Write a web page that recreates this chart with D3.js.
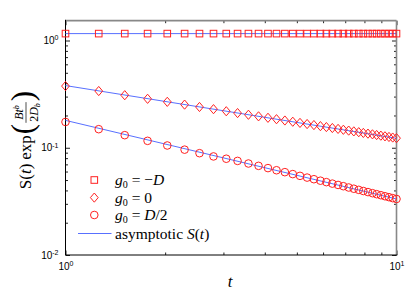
<!DOCTYPE html>
<html>
<head>
<meta charset="utf-8">
<script src="https://cdn.jsdelivr.net/npm/d3@7"></script>
<style>
  body { margin: 0; background: #fff; }
  svg { display: block; }
  .tick text { font-family: "Liberation Sans", Arial, sans-serif; font-size: 10px; fill: #000; }
</style>
</head>
<body>
<svg id="chart" width="415" height="304"></svg>
<script>
var tValues = [1.00, 1.26, 1.51, 1.77, 2.03, 2.29, 2.54, 2.80, 3.06, 3.31, 3.57, 3.83,
               4.09, 4.34, 4.60, 4.86, 5.11, 5.37, 5.63, 5.89, 6.14, 6.40, 6.66, 6.91,
               7.17, 7.43, 7.69, 7.94, 8.20, 8.46, 8.71, 8.97, 9.23, 9.49, 9.74, 10.00];

var squareValues = [1.16, 1.16, 1.16, 1.16, 1.16, 1.16, 1.16, 1.16, 1.16, 1.16, 1.16, 1.16,
                    1.16, 1.16, 1.16, 1.16, 1.16, 1.16, 1.16, 1.16, 1.16, 1.16, 1.16, 1.16,
                    1.16, 1.16, 1.16, 1.16, 1.16, 1.16, 1.16, 1.16, 1.16, 1.16, 1.16, 1.16];

var diamondValues = [0.376, 0.338, 0.309, 0.286, 0.268, 0.2525, 0.240, 0.229, 0.219, 0.2106, 0.2031, 0.1963,
                     0.1902, 0.1846, 0.1795, 0.1748, 0.1705, 0.1664, 0.1627, 0.1591, 0.1559, 0.1528, 0.1499, 0.1471,
                     0.1445, 0.1421, 0.1397, 0.1375, 0.1354, 0.1334, 0.1314, 0.1296, 0.1278, 0.1261, 0.1245, 0.1229];

var circleValues = [0.174, 0.149, 0.131, 0.116, 0.105, 0.096, 0.089, 0.083, 0.079, 0.0754, 0.0713, 0.0678,
                    0.0646, 0.0617, 0.0592, 0.0568, 0.0547, 0.0527, 0.0509, 0.0493, 0.0478, 0.0463, 0.0450, 0.0438,
                    0.0426, 0.0415, 0.0405, 0.0395, 0.0386, 0.0377, 0.0369, 0.0361, 0.0353, 0.0346, 0.0339, 0.0333];

// asymptotic S(t) curves (straight on log-log axes)
var lineT = [1, 10];
var asymNeg = [1.16, 1.16];
var asymZero = [0.380, 0.1225];
var asymHalf = [0.180, 0.0333];

var yMajor = [0.01, 0.1, 1];
var yMinor = [0.02, 0.03, 0.04, 0.05, 0.06, 0.07, 0.08, 0.09,
              0.2, 0.3, 0.4, 0.5, 0.6, 0.7, 0.8, 0.9];
var xMajor = [1, 10];
var xMinor = [2, 3, 4, 5, 6, 7, 8, 9];

var svg = d3.select("#chart");
var pLeft = 65.5, pRight = 396.5, pTop = 20.7, pBottom = 255;

var x = d3.scaleLog().domain([1, 10]).range([pLeft, pRight]);
var y = d3.scaleLog().domain([0.01, 1.53]).range([pBottom, pTop]);

var red = "#ff2020", blue = "#5870ff";

function sup(sel) {
    sel.each(function (d) {
        var e = Math.round(Math.log10(d));
        var t = d3.select(this).text("10");
        t.append("tspan").attr("dy", "-0.55em").attr("font-size", "7px").text(e);
    });
}

// minor ticks
svg.append("g").attr("transform", "translate(" + pLeft + ",0)")
    .call(d3.axisLeft(y).tickValues(yMinor).tickSize(-2.5).tickFormat(""));
svg.append("g").attr("transform", "translate(" + pRight + ",0)")
    .call(d3.axisRight(y).tickValues(yMinor).tickSize(-2.5).tickFormat(""));
svg.append("g").attr("transform", "translate(0," + pBottom + ")")
    .call(d3.axisBottom(x).tickValues(xMinor).tickSize(-2.5).tickFormat(""));
svg.append("g").attr("transform", "translate(0," + pTop + ")")
    .call(d3.axisTop(x).tickValues(xMinor).tickSize(-2.5).tickFormat(""));

// major ticks + labels
svg.append("g").attr("transform", "translate(" + pLeft + ",0)")
    .call(d3.axisLeft(y).tickValues(yMajor).tickSize(-4.5).tickPadding(7))
    .selectAll(".tick text").call(sup);
svg.append("g").attr("transform", "translate(" + pRight + ",0)")
    .call(d3.axisRight(y).tickValues(yMajor).tickSize(-4.5).tickFormat(""));
svg.append("g").attr("transform", "translate(0," + pBottom + ")")
    .call(d3.axisBottom(x).tickValues(xMajor).tickSize(-4.5).tickPadding(8))
    .selectAll(".tick text").call(sup);
svg.append("g").attr("transform", "translate(0," + pTop + ")")
    .call(d3.axisTop(x).tickValues(xMajor).tickSize(-4.5).tickFormat(""));

svg.selectAll(".domain").remove();
svg.selectAll(".tick line").attr("stroke", "#222");

// box
svg.append("line").attr("x1", pLeft).attr("x2", pRight).attr("y1", pTop).attr("y2", pTop)
    .attr("stroke", "#888").attr("stroke-width", 1.8);
svg.append("line").attr("x1", pRight).attr("x2", pRight).attr("y1", pTop).attr("y2", pBottom)
    .attr("stroke", "#888").attr("stroke-width", 1.6);
svg.append("line").attr("x1", pLeft).attr("x2", pLeft).attr("y1", pTop - 0.9).attr("y2", pBottom)
    .attr("stroke", "#000").attr("stroke-width", 1);
svg.append("line").attr("x1", pLeft).attr("x2", pRight + 0.8).attr("y1", pBottom).attr("y2", pBottom)
    .attr("stroke", "#000").attr("stroke-width", 1);

// asymptotic lines
var line = d3.line().x(function (d) { return x(d[0]); }).y(function (d) { return y(d[1]); });
[asymNeg, asymZero, asymHalf].forEach(function (vals) {
    svg.append("path")
        .datum(lineT.map(function (t, i) { return [t, vals[i]]; }))
        .attr("d", line)
        .attr("fill", "none").attr("stroke", blue).attr("stroke-width", 1);
});

// marker shapes
function square(g, cx, cy) {
    g.append("rect").attr("x", cx - 3.3).attr("y", cy - 3.3).attr("width", 6.6).attr("height", 6.6)
        .attr("fill", "none").attr("stroke", red).attr("stroke-width", 1);
}
function diamond(g, cx, cy) {
    g.append("path")
        .attr("d", "M" + cx + "," + (cy - 4.6) + "L" + (cx + 3.9) + "," + cy + "L" + cx + "," + (cy + 4.6) + "L" + (cx - 3.9) + "," + cy + "Z")
        .attr("fill", "none").attr("stroke", red).attr("stroke-width", 1);
}
function circle(g, cx, cy) {
    g.append("circle").attr("cx", cx).attr("cy", cy).attr("r", 3.8)
        .attr("fill", "none").attr("stroke", red).attr("stroke-width", 1);
}

var marks = svg.append("g");
tValues.forEach(function (t, i) {
    square(marks, x(t), y(squareValues[i]));
    diamond(marks, x(t), y(diamondValues[i]));
    circle(marks, x(t), y(circleValues[i]));
});

// legend
var serif = "'Liberation Serif', 'Times New Roman', serif";
var legend = svg.append("g").attr("font-family", serif).attr("font-size", "15.5px");
var rows = [
    {shape: square, y: 180, rhs: "\u2212D"},
    {shape: diamond, y: 197.6, rhs: "0"},
    {shape: circle, y: 215, rhs: "D/2"}
];
rows.forEach(function (r) {
    r.shape(legend, 94.3, r.y);
    var tx = legend.append("text").attr("x", 115).attr("y", r.y + 5);
    tx.append("tspan").attr("font-style", "italic").text("g");
    tx.append("tspan").attr("font-size", "10px").attr("dy", 3).text("0");
    tx.append("tspan").attr("dy", -3).text(" = ");
    if (r.rhs === "0") {
        tx.append("tspan").text("0");
    } else if (r.rhs === "D/2") {
        tx.append("tspan").attr("font-style", "italic").text("D");
        tx.append("tspan").text("/2");
    } else {
        tx.append("tspan").text("\u2212");
        tx.append("tspan").attr("font-style", "italic").text("D");
    }
});
legend.append("line").attr("x1", 78).attr("x2", 111.5).attr("y1", 233.5).attr("y2", 233.5)
    .attr("stroke", blue).attr("stroke-width", 1);
var at = legend.append("text").attr("x", 115).attr("y", 239);
at.append("tspan").text("asymptotic ");
at.append("tspan").attr("font-style", "italic").text("S");
at.append("tspan").text("(");
at.append("tspan").attr("font-style", "italic").text("t");
at.append("tspan").text(")");

// x label
svg.append("text").attr("x", 230).attr("y", 287).attr("text-anchor", "middle")
    .attr("font-family", serif).attr("font-style", "italic").attr("font-size", "17px").text("t");

// y label: S(t) exp( Bt^b / 2D_b )
var yl = svg.append("g").attr("transform", "translate(31,140) rotate(-90)");
var inner = yl.append("g").attr("font-family", serif);
var cur = 0;
function piece(txt, size, italic, dy) {
    var el = inner.append("text").attr("x", cur).attr("y", dy || 0)
        .attr("font-size", size + "px").attr("font-style", italic ? "italic" : "normal").text(txt);
    var w = el.node().getComputedTextLength();
    cur += w;
    return el;
}
piece("S(", 17, false);
piece("t", 17, true);
piece(")", 17, false);
cur += 4;
piece("exp", 17, false);
cur += 1;
piece("(", 31, false, 2);
cur += 1;
// fraction
var fx = cur;
var num = inner.append("text").attr("x", fx).attr("y", -8).attr("font-size", "12px").attr("font-style", "italic");
num.append("tspan").text("Bt");
num.append("tspan").attr("font-size", "8px").attr("dy", -4).text("b");
var den = inner.append("text").attr("x", fx).attr("y", 7).attr("font-size", "12px");
den.append("tspan").text("2");
den.append("tspan").attr("font-style", "italic").text("D");
den.append("tspan").attr("font-style", "italic").attr("font-size", "8px").attr("dy", 2).text("b");
var nw = num.node().getComputedTextLength(), dw = den.node().getComputedTextLength();
var fw = Math.max(nw, dw) + 2;
num.attr("x", fx + (fw - nw) / 2);
den.attr("x", fx + (fw - dw) / 2);
inner.append("line").attr("x1", fx).attr("x2", fx + fw).attr("y1", -5).attr("y2", -5)
    .attr("stroke", "#000").attr("stroke-width", 0.7);
cur += fw + 1;
piece(")", 31, false, 2);
inner.attr("transform", "translate(" + (-cur / 2) + ",0)");
</script>
</body>
</html>
